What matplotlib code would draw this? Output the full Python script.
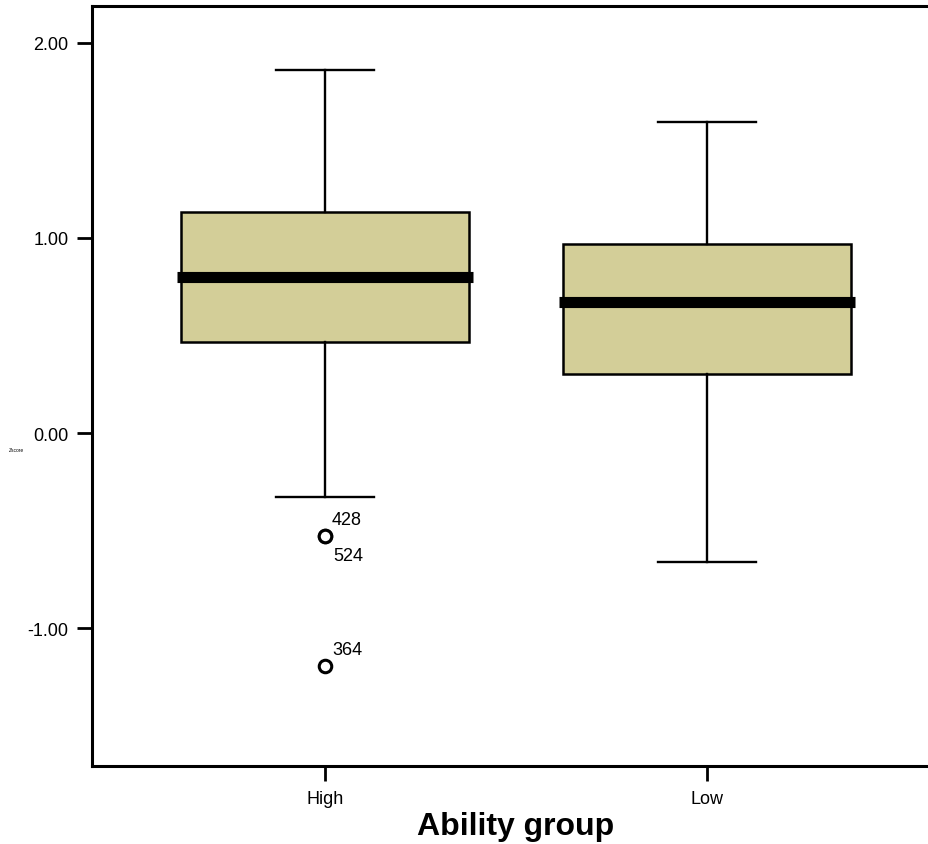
import matplotlib
matplotlib.use("Agg")
import matplotlib.pyplot as plt

plt.rcParams['font.family'] = ['Liberation Sans', 'DejaVu Sans']

groups = ['High', 'Low']
whislo = [-0.328, -0.661]
q1 = [0.465, 0.302]
med = [0.797, 0.671]
q3 = [1.130, 0.968]
whishi = [1.859, 1.593]
outliers_high = [-0.528, -0.528, -1.193]
outlier_ids = ['428', '524', '364']

stats = []
for i, g in enumerate(groups):
    stats.append(dict(label=g, whislo=whislo[i], q1=q1[i], med=med[i],
                      q3=q3[i], whishi=whishi[i],
                      fliers=outliers_high if g == 'High' else []))

fig = plt.figure(figsize=(9.29, 8.45), dpi=100)
ax = fig.add_axes([92 / 929, 78 / 845, 848 / 929, 760 / 845])

ax.bxp(stats, positions=[0, 1], widths=0.753, capwidths=0.254,
       patch_artist=True,
       boxprops=dict(facecolor='#d3ce98', edgecolor='black', linewidth=1.8),
       medianprops=dict(color='black', linewidth=8, solid_capstyle='butt'),
       whiskerprops=dict(color='black', linewidth=1.7),
       capprops=dict(color='black', linewidth=1.7),
       flierprops=dict(marker='o', markersize=9, markerfacecolor='white',
                       markeredgecolor='black', markeredgewidth=2.2))

# median bar sticks out a little past the box
for line in ax.lines:
    if line.get_linewidth() == 8:
        x0, x1 = line.get_xdata()
        line.set_xdata([x0 - 0.011, x1 + 0.011])

offsets = [(5, 12), (6, -14), (5, 12)]
for v, lab, off in zip(outliers_high, outlier_ids, offsets):
    ax.annotate(lab, (0, v), xytext=off, textcoords='offset points',
                fontsize=13, va='center', ha='left')

ax.set_xlim(-0.61, 1.61)
ax.set_ylim(-1.705, 2.187)
ax.set_yticks([-1, 0, 1, 2])
ax.set_yticklabels(['-1.00', '0.00', '1.00', '2.00'])
ax.set_xticks([0, 1])
ax.set_xticklabels(groups)
ax.tick_params(axis='both', labelsize=13, width=2, length=11, pad=6)
ax.set_xlabel('Ability group', fontsize=23, fontweight='bold', labelpad=3)
fig.text(16 / 929, 1 - 451 / 845, 'Zscore', fontsize=3.5, ha='center', va='center')
for s in ax.spines.values():
    s.set_linewidth(2.2)

fig.savefig('out.png', dpi=100)
